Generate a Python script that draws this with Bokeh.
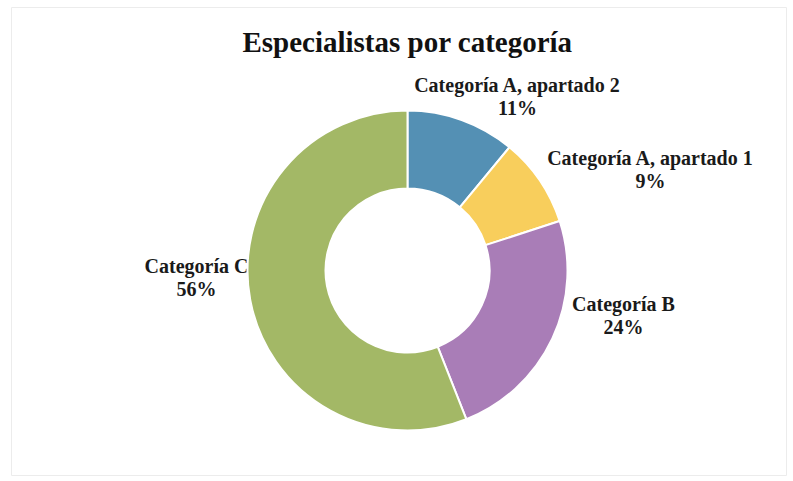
import math
from bokeh.plotting import figure
from bokeh.models import Range1d, ColumnDataSource
from bokeh.core.properties import value
from bokeh.embed import file_html
from bokeh.resources import INLINE

title_text = "Especialistas por categoría"
categories = ["Categoría A, apartado 2", "Categoría A, apartado 1", "Categoría B", "Categoría C"]
values = [11, 9, 24, 56]
colors = ["#5490b4", "#f8ce5c", "#a97db7", "#a3b866"]
pct_labels = ["11%", "9%", "24%", "56%"]

W, H = 789, 478
p = figure(width=W, height=H, output_backend="svg", toolbar_location=None,
           x_range=Range1d(0, W), y_range=Range1d(-H, 0),
           min_border=0, min_border_left=0, min_border_right=0,
           min_border_top=0, min_border_bottom=0)
p.axis.visible = False
p.grid.visible = False
p.outline_line_color = None
p.background_fill_color = "white"
p.border_fill_color = "white"

# faint frame like the reference
p.line(x=[11, 786, 786, 11, 11], y=[-7, -7, -475, -475, -7], line_color="#ececec", line_width=1)

cx, cy = 407, -270
r_out, r_in = 160, 82

total = float(sum(values))
starts, ends = [], []
acc = 0.0
for v in values:
    a0 = math.pi / 2 - 2 * math.pi * acc / total
    acc += v
    a1 = math.pi / 2 - 2 * math.pi * acc / total
    starts.append(a0)
    ends.append(a1)

# label placement (pixel anchors, page coords)
label_x = [517, 650, 623, 196]
label_y = [84, 157, 303, 265]

font = value("Liberation Serif")

lab = ColumnDataSource(dict(x=label_x, y=[-v for v in label_y], t=categories))
pct = ColumnDataSource(dict(x=label_x, y=[-(v + 23) for v in label_y], t=pct_labels))
p.text(x="x", y="y", text="t", source=lab, text_font=font, text_font_style="bold",
       text_font_size="20px", text_align="center", text_baseline="middle", text_color="#1a1a1a")
p.text(x="x", y="y", text="t", source=pct, text_font=font, text_font_style="bold",
       text_font_size="20px", text_align="center", text_baseline="middle", text_color="#1a1a1a")

src = ColumnDataSource(dict(s=starts, e=ends, c=colors))
p.annular_wedge(x=cx, y=cy, inner_radius=r_in, outer_radius=r_out,
                start_angle="s", end_angle="e", direction="clock",
                fill_color="c", line_color="white", line_width=2, source=src)

p.text(x=[407], y=[-41], text=[title_text], text_font=font, text_font_style="bold",
       text_font_size="29px", text_align="center", text_baseline="middle", text_color="#111111")

open("out.html", "w").write(file_html(p, INLINE))
